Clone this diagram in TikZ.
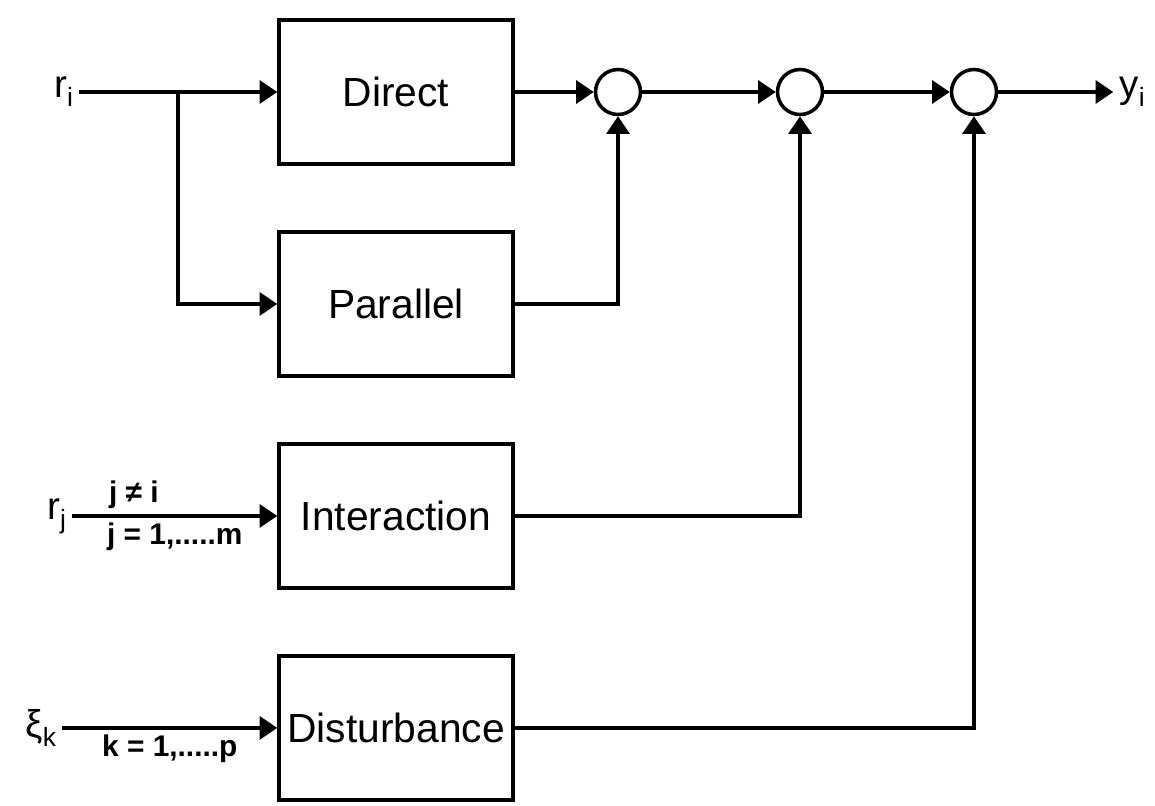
\documentclass[tikz,border=0pt]{standalone}
\usepackage{fontspec}
\setmainfont{Liberation Sans}
\usetikzlibrary{arrows.meta, positioning}
\newcommand{\idx}[1]{\raisebox{-0.45ex}{\fontsize{15}{15}\selectfont #1}}

\begin{document}
\begin{tikzpicture}[
  x=0.02cm, y=-0.02cm,
  node distance=1.29cm and 1cm,
  block/.style={rectangle, draw=black, line width=2pt, minimum width=4.68cm,
    minimum height=2.88cm, align=center, font=\fontsize{23.2}{27}\selectfont},
  junction/.style={circle, draw=black, line width=2pt, minimum size=0.9cm, inner sep=0pt},
  signal/.style={font=\fontsize{22}{26}\selectfont},
  cond/.style={font=\bfseries\fontsize{17}{20}\selectfont, inner sep=3pt},
  arrow/.style={-{Triangle[length=10pt, width=13pt]}, line width=2pt}
]
\useasboundingbox (0,0) rectangle (1155,805);
\node[block] (direct) at (396,92) {Direct};
\node[block, below=of direct] (parallel) {Parallel};
\node[block, below=of parallel] (interaction) {Interaction};
\node[block, below=of interaction] (disturbance) {Disturbance};
\node[junction] (s1) at (618,92) {};
\node[junction] (s2) at (800,92) {};
\node[junction] (s3) at (974,92) {};
\node[signal, left=3.96cm of direct] (ri) {r\idx{i}};
\node[signal, left=4.1cm of interaction] (rj) {r\idx{j}};
\node[signal, left=4.3cm of disturbance] (xik) {ξ\idx{k}};
\node[signal, right=2.3cm of s3] (yi) {y\idx{i}};
\coordinate (split) at (178,92);
% reference path
\draw[arrow] (ri) -- (direct);
\draw[arrow] (split) |- (parallel.west);
\draw[arrow] (direct) -- (s1);
\draw[arrow] (parallel.east) -| (s1.south);
% summing chain
\draw[arrow] (s1) -- (s2);
\draw[arrow] (s2) -- (s3);
\draw[arrow] (s3) -- (yi);
% other inputs
\draw[arrow] (rj) -- node[cond, above, pos=0.3]{j ≠ i} node[cond, below, pos=0.5]{j = 1,.....m} (interaction);
\draw[arrow] (xik) -- node[cond, below, pos=0.5]{k = 1,.....p} (disturbance);
\draw[arrow] (interaction.east) -| (s2.south);
\draw[arrow] (disturbance.east) -| (s3.south);
\end{tikzpicture}
\end{document}
